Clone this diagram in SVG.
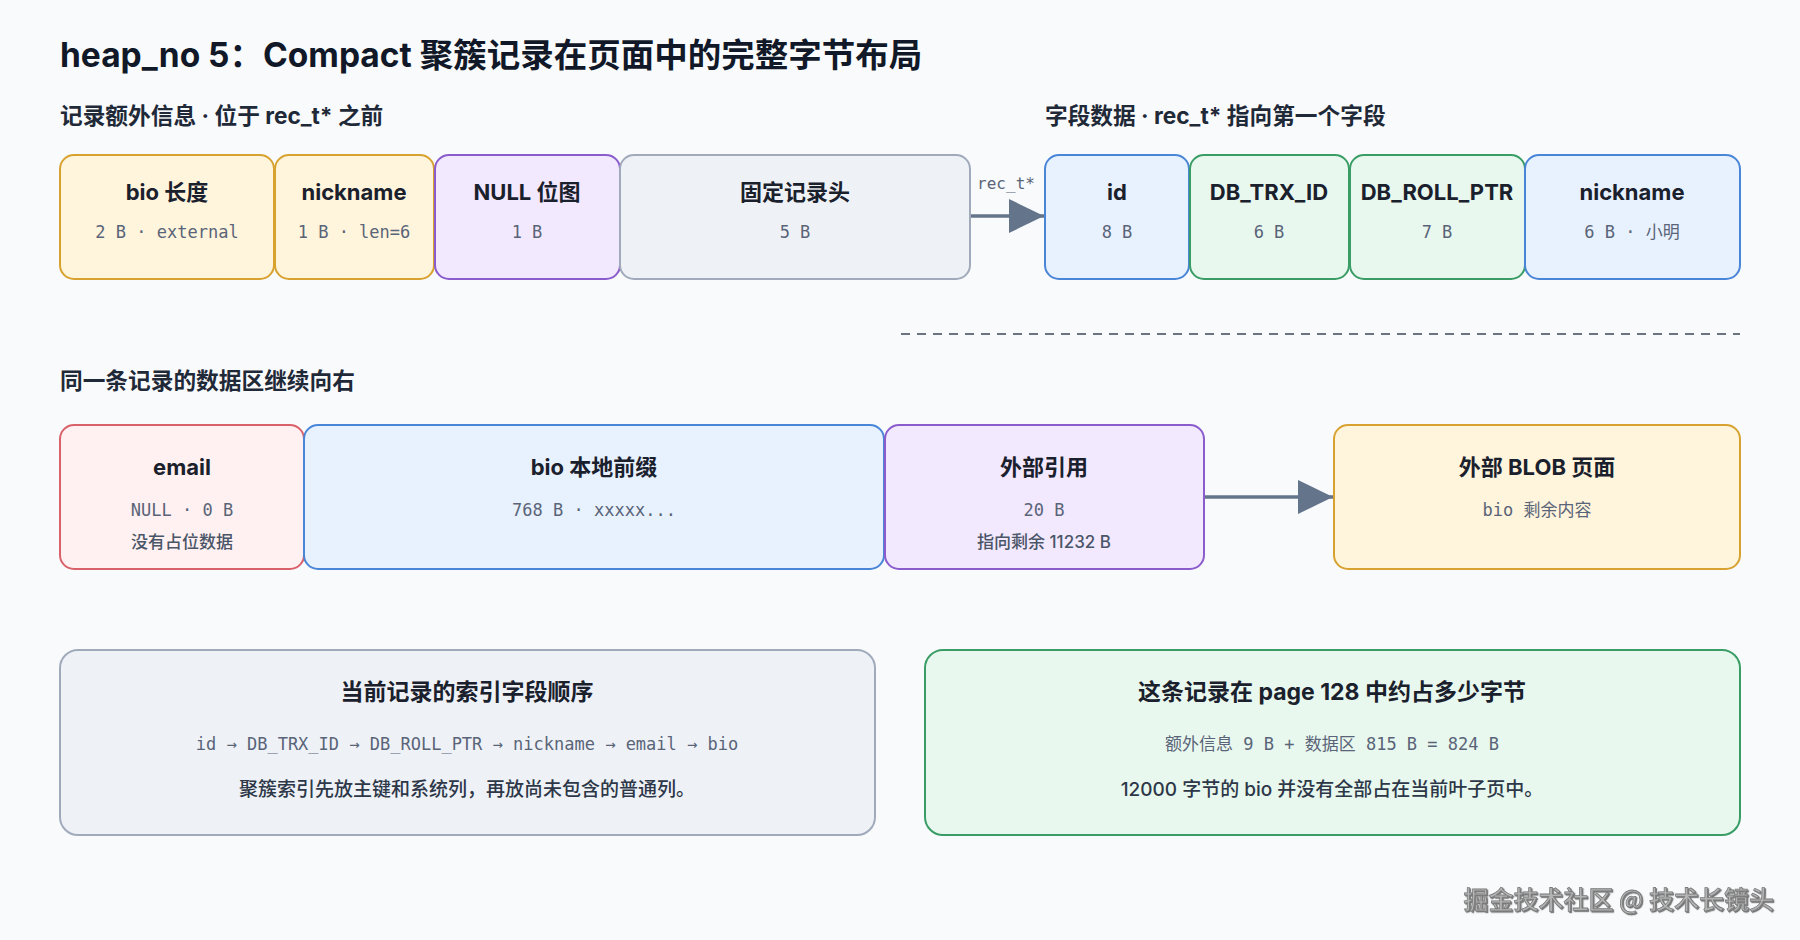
<svg xmlns="http://www.w3.org/2000/svg" width="1800" height="940" viewBox="0 0 1800 940">
<defs>
<style>
.bg{fill:#f8fafc}
.box{stroke-width:2}
.yel{fill:#fff4dc;stroke:#d8a230}
.pur{fill:#f3e9fe;stroke:#8a5ccc}
.gry{fill:#eef2f7;stroke:#a0aabb}
.blu{fill:#e8f1fe;stroke:#4a86d8}
.grn{fill:#e8f8ee;stroke:#3a9d66}
.red{fill:#fff1f1;stroke:#d9626a}
.h1{font-family:Inter,"Noto Sans CJK SC",sans-serif;font-weight:700;font-size:33.5px;fill:#111827}
.sec{font-family:Inter,"Noto Sans CJK SC",sans-serif;font-weight:700;font-size:22.7px;fill:#1f2937}
.t{font-family:Inter,"Noto Sans CJK SC",sans-serif;font-weight:700;font-size:22px;fill:#1a202c;text-anchor:middle}
.t2{font-family:Inter,"Noto Sans CJK SC",sans-serif;font-weight:700;font-size:23px;fill:#1a202c;text-anchor:middle}
.m{font-family:"DejaVu Sans Mono","Noto Sans CJK SC",monospace;font-size:17px;fill:#5a6478;text-anchor:middle}
.s{font-family:Inter,"Noto Sans CJK SC",sans-serif;font-weight:500;font-size:17px;fill:#4a5568;text-anchor:middle}
.b{font-family:Inter,"Noto Sans CJK SC",sans-serif;font-weight:500;font-size:19px;fill:#2d3748;text-anchor:middle}
.lbl{font-family:"DejaVu Sans Mono",monospace;font-size:16px;fill:#5a6478;text-anchor:middle}
.wm{font-family:"Noto Sans CJK SC",sans-serif;font-size:25px;font-weight:500;fill:#b4b4b4;stroke:#7c7c7c;stroke-width:0.8;text-anchor:end}
.conn{stroke:#64748b;stroke-width:3.5;fill:none}
</style>
<filter id="emb" x="-5%" y="-30%" width="110%" height="160%">
<feDropShadow dx="1.2" dy="1.2" stdDeviation="0.6" flood-color="#555555" flood-opacity="0.8"/>
</filter>
<marker id="ah" markerUnits="userSpaceOnUse" markerWidth="36" markerHeight="36" refX="35" refY="18" orient="auto">
<path d="M0,1 L35,18 L0,35 Z" fill="#64748b"/>
</marker>
</defs>
<rect class="bg" x="0" y="0" width="1800" height="940"/>
<text class="h1" x="60" y="67">heap_no 5：Compact 聚簇记录在页面中的完整字节布局</text>
<text class="sec" x="60" y="124">记录额外信息 · 位于 rec_t* 之前</text>
<text class="sec" x="1045" y="124">字段数据 · rec_t* 指向第一个字段</text>

<g id="n-bio-len"><rect class="box yel" x="60" y="155" width="214" height="124" rx="14"/><text class="t" x="167" y="200">bio 长度</text><text class="m" x="167" y="238">2 B · external</text></g>
<g id="n-nick-len"><rect class="box yel" x="275" y="155" width="159" height="124" rx="14"/><text class="t" x="354" y="200">nickname</text><text class="m" x="354" y="238">1 B · len=6</text></g>
<g id="n-null"><rect class="box pur" x="435" y="155" width="185" height="124" rx="14"/><text class="t" x="527" y="200">NULL 位图</text><text class="m" x="527" y="238">1 B</text></g>
<g id="n-header"><rect class="box gry" x="620" y="155" width="350" height="124" rx="14"/><text class="t" x="795" y="200">固定记录头</text><text class="m" x="795" y="238">5 B</text></g>
<g id="n-id"><rect class="box blu" x="1045" y="155" width="144" height="124" rx="14"/><text class="t" x="1117" y="200">id</text><text class="m" x="1117" y="238">8 B</text></g>
<g id="n-trx"><rect class="box grn" x="1190" y="155" width="159" height="124" rx="14"/><text class="t" x="1269" y="200">DB_TRX_ID</text><text class="m" x="1269" y="238">6 B</text></g>
<g id="n-roll"><rect class="box grn" x="1350" y="155" width="175" height="124" rx="14"/><text class="t" x="1437" y="200">DB_ROLL_PTR</text><text class="m" x="1437" y="238">7 B</text></g>
<g id="n-nick"><rect class="box blu" x="1525" y="155" width="215" height="124" rx="14"/><text class="t" x="1632" y="200">nickname</text><text class="m" x="1632" y="238">6 B · 小明</text></g>

<line x1="901" y1="334" x2="1740" y2="334" stroke="#6b7280" stroke-width="2" stroke-dasharray="9,7"/>
<text class="sec" x="60" y="389">同一条记录的数据区继续向右</text>

<g id="n-email"><rect class="box red" x="60" y="425" width="244" height="144" rx="14"/><text class="t" x="182" y="475">email</text><text class="m" x="182" y="516">NULL · 0 B</text><text class="s" x="182" y="548">没有占位数据</text></g>
<g id="n-bio-prefix"><rect class="box blu" x="304" y="425" width="580" height="144" rx="14"/><text class="t" x="594" y="475">bio 本地前缀</text><text class="m" x="594" y="516">768 B · xxxxx...</text></g>
<g id="n-extref"><rect class="box pur" x="885" y="425" width="319" height="144" rx="14"/><text class="t" x="1044" y="475">外部引用</text><text class="m" x="1044" y="516">20 B</text><text class="s" x="1044" y="548">指向剩余 11232 B</text></g>
<g id="n-blob"><rect class="box yel" x="1334" y="425" width="406" height="144" rx="14"/><text class="t" x="1537" y="475">外部 BLOB 页面</text><text class="m" x="1537" y="516">bio 剩余内容</text></g>

<g id="n-order"><rect class="box gry" x="60" y="650" width="815" height="185" rx="18"/><text class="t2" x="467" y="700">当前记录的索引字段顺序</text><text class="m" x="467" y="750">id → DB_TRX_ID → DB_ROLL_PTR → nickname → email → bio</text><text class="b" x="467" y="796">聚簇索引先放主键和系统列，再放尚未包含的普通列。</text></g>
<g id="n-size"><rect class="box grn" x="925" y="650" width="815" height="185" rx="18"/><text class="t2" x="1332" y="700">这条记录在 page 128 中约占多少字节</text><text class="m" x="1332" y="750">额外信息 9 B + 数据区 815 B = 824 B</text><text class="b" x="1332" y="796">12000 字节的 bio 并没有全部占在当前叶子页中。</text></g>

<g id="connectors">
<line class="conn" x1="971" y1="216" x2="1044" y2="216" marker-end="url(#ah)"/>
<text class="lbl" x="1006" y="189">rec_t*</text>
<line class="conn" x1="1205" y1="497" x2="1333" y2="497" marker-end="url(#ah)"/>
</g>
<text class="wm" x="1774" y="909" filter="url(#emb)">掘金技术社区 @ 技术长镜头</text>
</svg>
